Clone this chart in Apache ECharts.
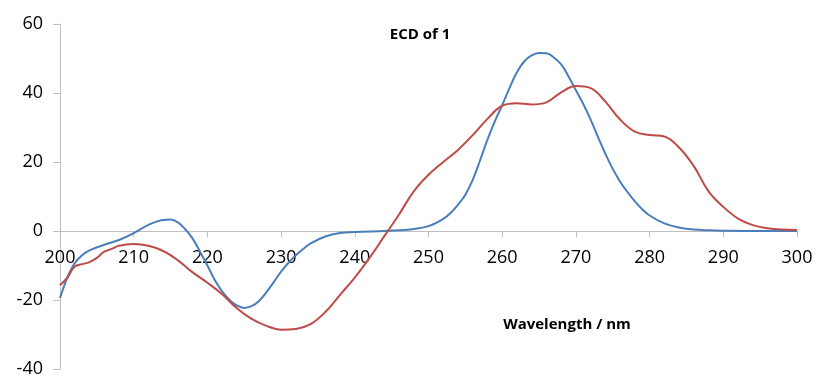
<!DOCTYPE html>
<html>
<head>
<meta charset="utf-8">
<script src="https://cdn.jsdelivr.net/npm/echarts@6/dist/echarts.min.js"></script>
<style>
html, body { margin: 0; padding: 0; background: #fff; }
#ecd-chart { width: 815px; height: 380px; }
</style>
</head>
<body>
<div id="ecd-chart"></div>
<script>
// wavelength (nm) / ECD value pairs
var blueWl = [200, 201, 202, 203, 204, 206, 208, 210, 212, 214, 215, 216, 217, 218, 219, 220, 221, 222,
    223, 224, 225, 226, 227, 228, 229, 230, 231, 232, 233, 234, 236, 238, 240, 244, 246, 248, 250, 252,
    253, 254, 255, 256, 257, 258, 259, 260, 261, 262, 263, 264, 265, 266, 267, 268, 269, 270, 271, 272,
    273, 274, 275, 276, 277, 278, 279, 280, 282, 284, 286, 288, 290, 295, 300];
var blueCurve = [-19.4, -13.5, -9.3, -7, -5.6, -4, -2.6, -0.6, 1.8, 3.2, 3.3, 2.5, 0.5, -2.2, -6, -10, -14.2, -17.5,
    -20, -21.6, -22.3, -21.8, -20.3, -17.8, -14.8, -11.8, -9.2, -7, -5.2, -3.6, -1.6, -0.6, -0.3, 0, 0.2, 0.6, 1.4, 3.5,
    5.2, 7.6, 10.5, 14.8, 20.5, 26.5, 31.8, 36.5, 41.5, 46, 49.2, 50.9, 51.6, 51.5, 50.3, 48.3, 44.8, 40.8, 36.8, 32.3,
    27.2, 22.4, 18, 14.3, 11.3, 8.6, 6.3, 4.5, 2.2, 1, 0.4, 0.2, 0.1, 0, 0];

var redWl = [200, 201, 202, 203, 204, 205, 206, 207, 208, 210, 212, 214, 216, 218, 220, 222, 224, 226, 228,
    230, 232, 234, 236, 238, 240, 242, 244, 246, 248, 250, 252, 254, 256, 258, 260, 262, 264, 266, 268, 270,
    272, 274, 276, 278, 280, 282, 284, 286, 288, 290, 292, 294, 296, 298, 300];
var redCurve = [-15.7, -13.5, -10.3, -9.6, -9, -7.8, -6, -5.2, -4.3, -3.8, -4.3, -5.8, -8.5, -12, -15, -18.3, -22.4, -25.5, -27.5,
    -28.6, -28.4, -27, -23.5, -18.5, -13.5, -7.8, -1.5, 4.8, 11.5, 16.3, 20, 23.5, 27.8, 32.5, 36.3, 37, 36.7, 37.3, 40.2, 42,
    41.4, 37.5, 32.3, 28.8, 27.8, 27.4, 24.2, 18.8, 11.5, 7, 3.6, 1.7, 0.8, 0.4, 0.3];

var xTicks = { min: 200, max: 300, step: 10 };
var yTicks = { min: -40, max: 60, step: 20 };

function pairs(xs, ys) {
    var out = [];
    for (var i = 0; i < xs.length; i++) {
        out.push([xs[i], ys[i]]);
    }
    return out;
}

var axisGray = '#bfbfbf';
var fontName = 'Open Sans';

var option = {
    animation: false,
    backgroundColor: '#fff',
    title: [
        {
            text: 'ECD of 1',
            left: 415,
            top: 22,
            textAlign: 'center',
            textStyle: { fontFamily: fontName, fontSize: 15, fontWeight: 'bold', color: '#000' }
        },
        {
            text: 'Wavelength / nm',
            left: 562,
            top: 312,
            textAlign: 'center',
            textStyle: { fontFamily: fontName, fontSize: 15, fontWeight: 'bold', color: '#000' }
        }
    ],
    grid: {
        left: 60,
        right: 18,
        top: 24,
        bottom: 11,
        outerBoundsMode: 'none'
    },
    xAxis: {
        type: 'value',
        min: xTicks.min,
        max: xTicks.max,
        interval: xTicks.step,
        // put the axis where y = 0 sits (grid height 345px, 0 is 138px above the bottom)
        offset: -138,
        axisLine: { onZero: false, lineStyle: { color: axisGray, width: 1 } },
        axisTick: { show: true, inside: false, length: 6, lineStyle: { color: axisGray } },
        axisLabel: { fontFamily: fontName, fontSize: 18, color: '#000', margin: 18 },
        splitLine: { show: false }
    },
    yAxis: {
        type: 'value',
        min: yTicks.min,
        max: yTicks.max,
        interval: yTicks.step,
        axisLine: { show: true, lineStyle: { color: axisGray, width: 1 } },
        axisTick: { show: true, length: 7, lineStyle: { color: axisGray } },
        axisLabel: { fontFamily: fontName, fontSize: 18, color: '#000', margin: 17 },
        splitLine: { show: false }
    },
    series: [
        {
            name: 'blue',
            type: 'line',
            smooth: 0.4,
            symbol: 'none',
            lineStyle: { color: '#4a7ebb', width: 2 },
            data: pairs(blueWl, blueCurve)
        },
        {
            name: 'red',
            type: 'line',
            smooth: 0.4,
            symbol: 'none',
            lineStyle: { color: '#be4b48', width: 2 },
            data: pairs(redWl, redCurve)
        }
    ]
};

var ecdChart = echarts.init(document.getElementById('ecd-chart'));
ecdChart.setOption(option);
</script>
</body>
</html>
